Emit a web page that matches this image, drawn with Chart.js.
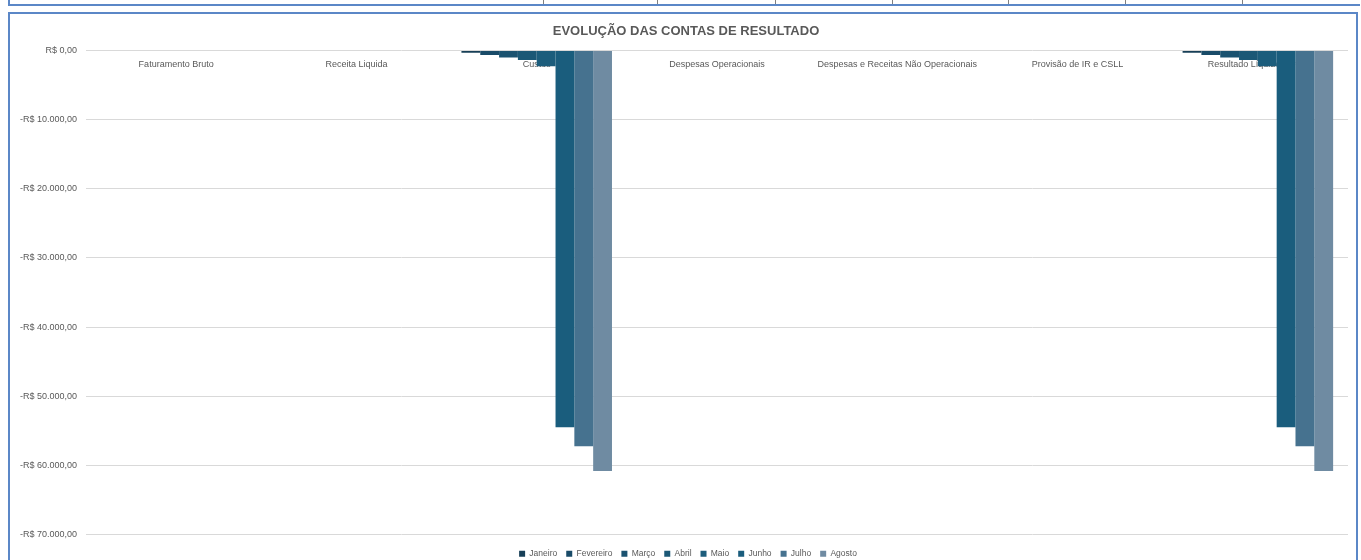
<!DOCTYPE html>
<html lang="pt-BR">
<head>
    <meta charset="UTF-8">
    <title>Evolução das Contas de Resultado</title>
    <script src="https://cdn.jsdelivr.net/npm/chart.js"></script>
    <style>
        body {
            margin: 0;
            background: #ffffff;
            font-family: "Liberation Sans", Arial, sans-serif;
        }
        .top-strip {
            position: absolute;
            left: 8px;
            top: 0;
            width: 1350px;
            height: 4px;
            border-left: 2px solid #5b87c7;
            border-bottom: 2px solid #5b87c7;
        }
        .top-strip span {
            position: absolute;
            top: 0;
            height: 4px;
            border-left: 1px solid #7f7f7f;
        }
        .frame {
            position: absolute;
            left: 8px;
            top: 12px;
            width: 1346px;
            height: 560px;
            border: 2px solid #5b87c7;
        }
        .chart-box {
            position: relative;
            width: 1346px;
            height: 548px;
        }
    </style>
</head>
<body>
    <div class="top-strip" id="topStrip"></div>
    <div class="frame">
        <div class="chart-box">
            <canvas id="resultadoChart"></canvas>
        </div>
    </div>

    <script>
        // categorias (contas)
        const categorias = [
            'Faturamento Bruto',
            'Receita Liquida',
            'Custos',
            'Despesas Operacionais',
            'Despesas e Receitas Não Operacionais',
            'Provisão de IR e CSLL',
            'Resultado Líquido (Total)'
        ];

        const meses = ['Janeiro', 'Fevereiro', 'Março', 'Abril', 'Maio', 'Junho', 'Julho', 'Agosto'];

        // valores por mês, na ordem das categorias
        const janeiro   = [0, 0, -300, 0, 0, 0, -300];
        const fevereiro = [0, 0, -650, 0, 0, 0, -650];
        const marco     = [0, 0, -1000, 0, 0, 0, -1000];
        const abril     = [0, 0, -1350, 0, 0, 0, -1350];
        const maio      = [0, 0, -2250, 0, 0, 0, -2250];
        const junho     = [0, 0, -54500, 0, 0, 0, -54500];
        const julho     = [0, 0, -57250, 0, 0, 0, -57250];
        const agosto    = [0, 0, -60800, 0, 0, 0, -60800];

        const series = [janeiro, fevereiro, marco, abril, maio, junho, julho, agosto];

        const cores = ['#173f57', '#194b68', '#1a5270', '#1b5876', '#1c5d7c', '#1a5d7d', '#46728f', '#6f8ba2'];

        // eixo Y
        const yTickValues = [0, -10000, -20000, -30000, -40000, -50000, -60000, -70000];
        const yTickLabels = ['R$ 0,00', '-R$ 10.000,00', '-R$ 20.000,00', '-R$ 30.000,00',
                             '-R$ 40.000,00', '-R$ 50.000,00', '-R$ 60.000,00', '-R$ 70.000,00'];

        // separadores da tabela cortada no topo
        const topSeparators = [543, 657, 775, 892, 1008, 1125, 1242];
        const strip = document.getElementById('topStrip');
        topSeparators.forEach(x => {
            const s = document.createElement('span');
            s.style.left = (x - 10) + 'px';
            strip.appendChild(s);
        });

        const textColor = '#595959';

        // ajusta título e legenda para ficarem onde o Excel os põe
        const nudge = {
            id: 'nudge',
            beforeDraw(chart) {
                if (chart.legend) {
                    chart.legend.top = chart.chartArea.bottom + 6;
                    chart.legend.left += 9;
                    chart.legend.right += 9;
                }
                if (chart.titleBlock) {
                    chart.titleBlock.left += 7;
                    chart.titleBlock.right += 7;
                }
            }
        };

        new Chart(document.getElementById('resultadoChart'), {
            type: 'bar',
            data: {
                labels: categorias,
                datasets: meses.map((m, i) => ({
                    label: m,
                    data: series[i],
                    backgroundColor: cores[i],
                    borderWidth: 0,
                    categoryPercentage: 0.835,
                    barPercentage: 1
                }))
            },
            options: {
                responsive: true,
                maintainAspectRatio: false,
                animation: false,
                layout: {
                    padding: { left: 0, right: 8, top: 0, bottom: 0 }
                },
                scales: {
                    x: {
                        position: { y: 0 },
                        grid: { display: false },
                        border: { display: false },
                        ticks: {
                            color: textColor,
                            font: { size: 9 },
                            padding: 1,
                            maxRotation: 0,
                            autoSkip: false
                        }
                    },
                    y: {
                        min: -70000,
                        max: 0,
                        afterFit: s => { s.width = 76; },
                        afterBuildTicks: s => {
                            s.ticks = yTickValues.map(v => ({ value: v }));
                        },
                        grid: {
                            color: '#d9d9d9',
                            drawTicks: false
                        },
                        border: { display: false },
                        ticks: {
                            color: textColor,
                            font: { size: 9 },
                            padding: 9,
                            callback: function(value) {
                                const idx = yTickValues.indexOf(value);
                                return idx >= 0 ? yTickLabels[idx] : '';
                            }
                        }
                    }
                },
                plugins: {
                    title: {
                        display: true,
                        text: 'EVOLUÇÃO DAS CONTAS DE RESULTADO',
                        color: textColor,
                        font: { size: 13, weight: 'bold' },
                        padding: { top: 10, bottom: 11 }
                    },
                    legend: {
                        position: 'bottom',
                        labels: {
                            color: textColor,
                            font: { size: 8.5 },
                            boxWidth: 6,
                            boxHeight: 6,
                            padding: 9
                        }
                    },
                    tooltip: { enabled: false }
                }
            },
            plugins: [nudge]
        });
    </script>
</body>
</html>
